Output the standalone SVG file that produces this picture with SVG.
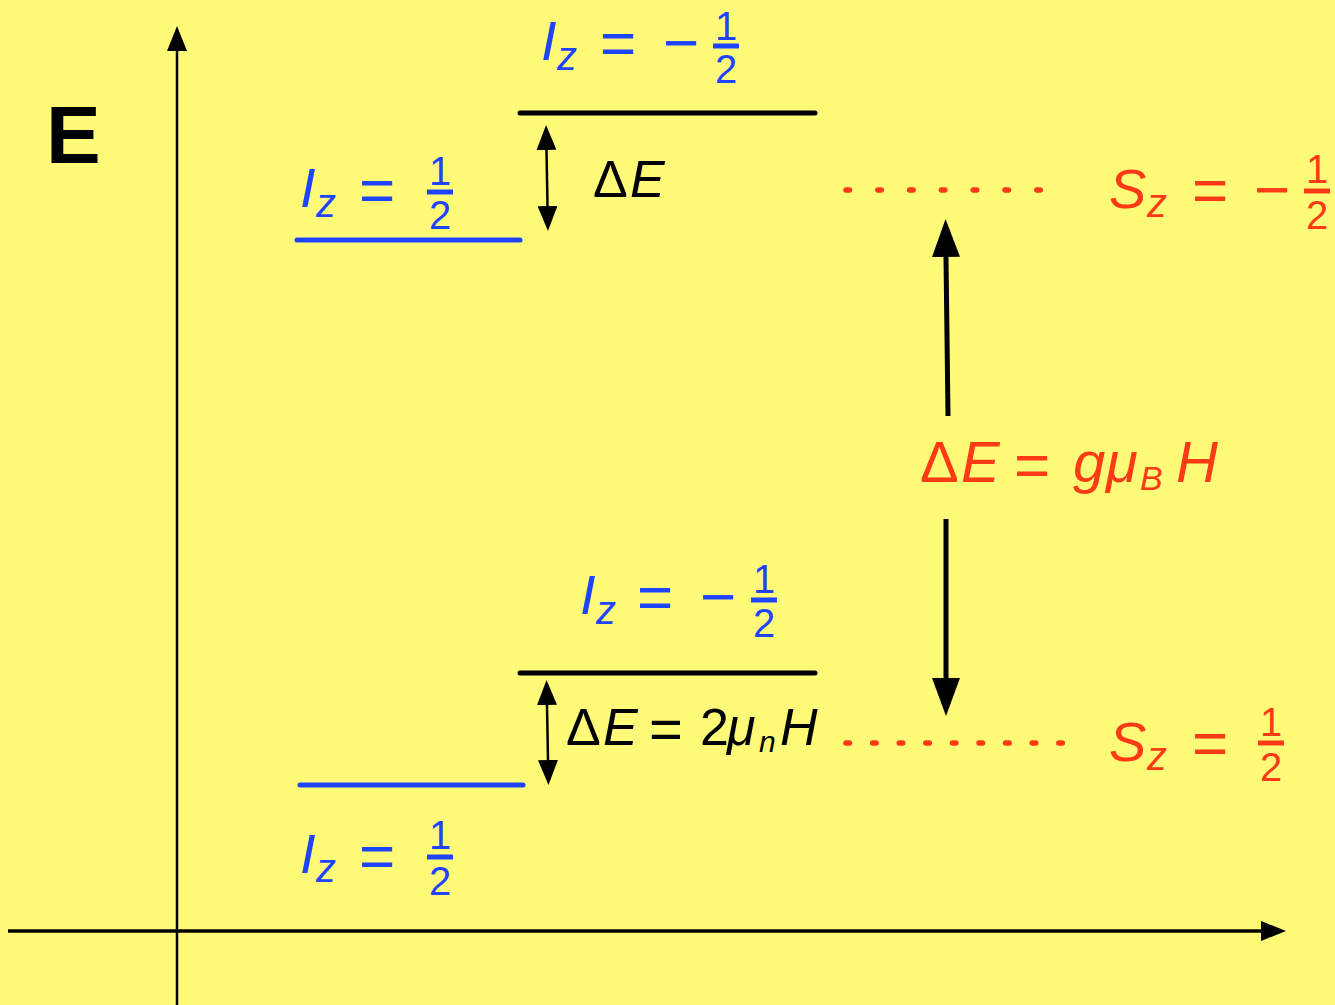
<svg xmlns="http://www.w3.org/2000/svg" width="1335" height="1005" viewBox="0 0 1335 1005">
<defs>
<style>
text{font-family:"Liberation Sans","DejaVu Sans",Arial,sans-serif}
.blue{fill:#1E44FF}
.red{fill:#FF3A14}
.blk{fill:#000}
.it{font-style:italic}
.big{font-size:56px}
.sub{font-size:40px}
.op{font-size:62px}
.dig{font-size:40px;text-anchor:middle}
.lvl{stroke-width:5;stroke-linecap:round;fill:none}
.lvl-b{stroke:#000}
.lvl-u{stroke:#1E44FF}
.fb-u{stroke:#1E44FF;stroke-width:5}
.fb-r{stroke:#FF3A14;stroke-width:5}
.dots{stroke:#FF3A14;stroke-width:5.5;stroke-linecap:round;fill:none}
.ax{stroke:#000;fill:none}
.dbl{stroke:#000;stroke-width:2.5;fill:none}
.bigar{stroke:#000;stroke-width:5;fill:none}
</style>
<marker id="hAx" viewBox="0 0 25 20" refX="0" refY="10" markerWidth="25" markerHeight="20" markerUnits="userSpaceOnUse" orient="auto"><path d="M0,0 L25,10 L0,20 z" fill="#000"/></marker>
<marker id="hS" viewBox="0 0 25 20" refX="0" refY="10" markerWidth="25" markerHeight="20" markerUnits="userSpaceOnUse" orient="auto-start-reverse"><path d="M0,0 L25,10 L0,20 z" fill="#000"/></marker>
<marker id="hL" viewBox="0 0 38 28" refX="0" refY="14" markerWidth="38" markerHeight="28" markerUnits="userSpaceOnUse" orient="auto"><path d="M0,0 L38,14 L0,28 z" fill="#000"/></marker>
</defs>
<rect x="0" y="0" width="1335" height="1005" fill="#FFFA78"/>

<g id="connectors">
  <path class="ax" stroke-width="2.5" d="M177,1005 L177,51" marker-end="url(#hAx)"/>
  <path class="ax" stroke-width="3.5" d="M8,931 L1261,931" marker-end="url(#hAx)"/>
  <path class="dbl" d="M546.5,150 L547.5,206" marker-start="url(#hS)" marker-end="url(#hS)"/>
  <path class="dbl" d="M547,705 L548,760" marker-start="url(#hS)" marker-end="url(#hS)"/>
  <path class="bigar" d="M948,416 L946,257" marker-end="url(#hL)"/>
  <path class="bigar" d="M946,519 L946,678" marker-end="url(#hL)"/>
</g>

<g id="axis-label-E">
  <text x="46" y="163" font-size="82" font-weight="bold" class="blk">E</text>
</g>

<g id="level-nuclear-upper-minus">
  <line class="lvl lvl-b" x1="520" y1="113" x2="815" y2="113"/>
  <text class="blue"><tspan class="it big" x="541" y="60">I</tspan><tspan class="it sub" x="557" y="70">z</tspan></text>
  <text class="blue op"><tspan x="600" y="64">=</tspan><tspan x="663" y="64">−</tspan></text>
  <line class="fb-u" x1="713" y1="46" x2="739" y2="46"/>
  <text class="blue dig"><tspan x="726" y="40">1</tspan><tspan x="726" y="83">2</tspan></text>
</g>

<g id="level-nuclear-upper-plus">
  <line class="lvl lvl-u" x1="297" y1="240" x2="520" y2="240"/>
  <text class="blue"><tspan class="it big" x="300" y="207">I</tspan><tspan class="it sub" x="316" y="217">z</tspan></text>
  <text class="blue op"><tspan x="359" y="211">=</tspan></text>
  <line class="fb-u" x1="427" y1="192" x2="453" y2="192"/>
  <text class="blue dig"><tspan x="440" y="185">1</tspan><tspan x="440" y="229">2</tspan></text>
</g>

<g id="level-nuclear-lower-minus">
  <line class="lvl lvl-b" x1="520" y1="673" x2="815" y2="673"/>
  <text class="blue"><tspan class="it big" x="580" y="614">I</tspan><tspan class="it sub" x="596" y="624">z</tspan></text>
  <text class="blue op"><tspan x="637" y="618">=</tspan><tspan x="700" y="618">−</tspan></text>
  <line class="fb-u" x1="751" y1="600" x2="777" y2="600"/>
  <text class="blue dig"><tspan x="764" y="593">1</tspan><tspan x="764" y="637">2</tspan></text>
</g>

<g id="level-nuclear-lower-plus">
  <line class="lvl lvl-u" x1="300" y1="785" x2="523" y2="785"/>
  <text class="blue"><tspan class="it big" x="300" y="873">I</tspan><tspan class="it sub" x="316" y="882">z</tspan></text>
  <text class="blue op"><tspan x="359" y="877">=</tspan></text>
  <line class="fb-u" x1="427" y1="857" x2="453" y2="857"/>
  <text class="blue dig"><tspan x="440" y="849">1</tspan><tspan x="440" y="895">2</tspan></text>
</g>

<g id="level-electron-minus">
  <path class="dots" d="M846,190 L1041,190" stroke-dasharray="3.5 28.3"/>
  <text class="red"><tspan class="it big" x="1109" y="208">S</tspan><tspan class="it sub" x="1147" y="217">z</tspan></text>
  <text class="red op"><tspan x="1192" y="211">=</tspan><tspan x="1254" y="211">−</tspan></text>
  <line class="fb-r" x1="1304" y1="191" x2="1330" y2="191"/>
  <text class="red dig"><tspan x="1317" y="183">1</tspan><tspan x="1317" y="229">2</tspan></text>
</g>

<g id="level-electron-plus">
  <path class="dots" d="M846,743 L1063,743" stroke-dasharray="3.5 23.1"/>
  <text class="red"><tspan class="it big" x="1109" y="761">S</tspan><tspan class="it sub" x="1147" y="770">z</tspan></text>
  <text class="red op"><tspan x="1192" y="764">=</tspan></text>
  <line class="fb-r" x1="1258" y1="743" x2="1284" y2="743"/>
  <text class="red dig"><tspan x="1271" y="736">1</tspan><tspan x="1271" y="781">2</tspan></text>
</g>

<g id="label-dE-top">
  <text class="blk" font-size="52"><tspan x="593" y="197">Δ</tspan><tspan class="it" x="630" y="197">E</tspan></text>
</g>

<g id="label-dE-nuclear">
  <text class="blk" font-size="52"><tspan x="566" y="745">Δ</tspan><tspan class="it" x="603" y="745">E</tspan><tspan x="700" y="745">2</tspan><tspan class="it" x="727" y="745">μ</tspan><tspan class="it" x="780" y="745">H</tspan></text>
  <text class="blk it" font-size="30" x="759" y="752">n</text>
  <text class="blk" font-size="58" x="649" y="749">=</text>
</g>

<g id="label-dE-electron">
  <text class="red" font-size="58"><tspan x="920" y="482">Δ</tspan><tspan class="it" x="961" y="482">E</tspan><tspan class="it" x="1073" y="482">g</tspan><tspan class="it" x="1106" y="482">μ</tspan><tspan class="it" x="1176" y="482">H</tspan></text>
  <text class="red it" font-size="34" x="1140" y="490">B</text>
  <text class="red" font-size="62" x="1014" y="486">=</text>
</g>
</svg>
